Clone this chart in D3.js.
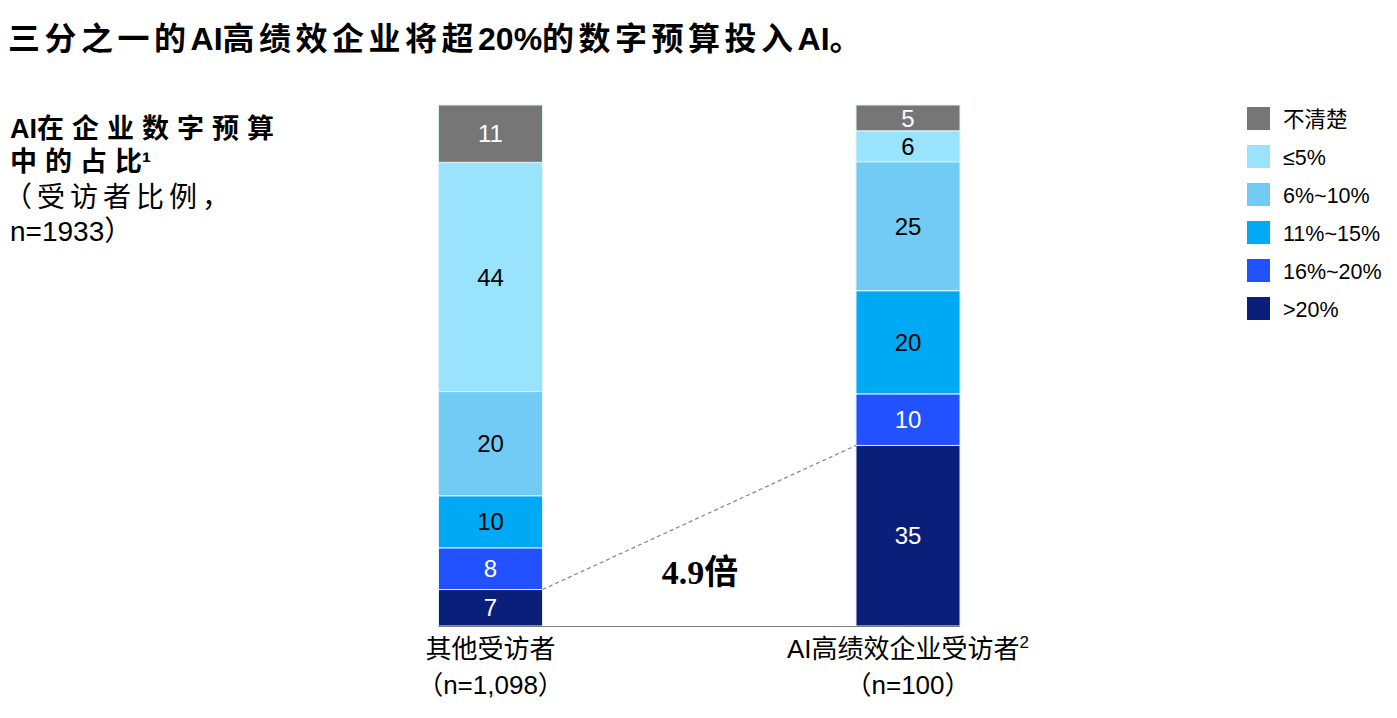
<!DOCTYPE HTML>
<html>
  <head>
    <meta charset="utf-8">
    <title>AI在企业数字预算中的占比</title>
    <style>
      html, body {
        margin: 0;
        padding: 0;
        background: #fff;
      }

      text {
        font-family: "Liberation Sans", "Noto Sans CJK SC", sans-serif;
        fill: #000;
      }

      .title {
        font-size: 32px;
        font-weight: bold;
      }

      .sideBold {
        font-size: 27px;
        font-weight: bold;
      }

      .sideNormal {
        font-size: 28px;
      }

      .valueText {
        font-size: 24px;
      }

      .legendText {
        font-size: 21.5px;
      }

      .catText {
        font-size: 26px;
      }

      .multText {
        font-family: "Liberation Serif", "Noto Sans CJK SC", serif;
        font-size: 34px;
        font-weight: bold;
      }
    </style>
  </head>
  <body>
    <svg width="1397" height="718"></svg>
    <script src="https://d3js.org/d3.v7.min.js"></script>
    <script>
      // categories (bars) and their footnote / sample size
      var categories = [ '其他受访者', 'AI高绩效企业受访者' ];
      var catSup = [ '', '2' ];
      var catN = [ '（n=1,098）', '（n=100）' ];

      // series, bottom to top
      var seriesKeys = [ '>20%', '16%~20%', '11%~15%', '6%~10%', '≤5%', '不清楚' ];
      var seriesColors = [ '#0a1f7a', '#2251ff', '#00a9f4', '#71cbf4', '#99e3fc', '#767676' ];
      var labelColors = [ '#fff', '#fff', '#000', '#000', '#000', '#fff' ];

      // percentage of respondents, one value per category
      var over20 = [ 7, 35 ];
      var from16to20 = [ 8, 10 ];
      var from11to15 = [ 10, 20 ];
      var from6to10 = [ 20, 25 ];
      var upTo5 = [ 44, 6 ];
      var unsure = [ 11, 5 ];

      var seriesValues = [ over20, from16to20, from11to15, from6to10, upTo5, unsure ];

      var svg = d3.select( 'svg' );

      // writes a string into a text element, spacing out only the CJK runs
      function spacedText( sel, str, spacing ) {
        var runs = str.match( /[\u3000-\u9fff\uff00-\uffef]+|[^\u3000-\u9fff\uff00-\uffef]+/g );
        runs.forEach( function( r ) {
          var cjk = /[\u3000-\u9fff\uff00-\uffef]/.test( r );
          sel.append( 'tspan' )
            .style( 'letter-spacing', cjk ? spacing + 'px' : '0px' )
            .text( r );
        } );
      }

      var table = categories.map( function( c, i ) {
        var row = { cat: c };
        seriesKeys.forEach( function( k, j ) { row[k] = seriesValues[j][i]; } );
        return row;
      } );

      // each bar drawn as its own 100% (right bar sums to 101 after rounding)
      var stacked = d3.stack()
        .keys( seriesKeys )
        .offset( d3.stackOffsetExpand )( table );

      var barWidth = 104;
      var x = d3.scalePoint().domain( categories ).range( [ 490.5, 908 ] );
      var y = d3.scaleLinear().domain( [ 0, 1 ] ).range( [ 626, 105 ] );

      // title
      var title = svg.append( 'text' )
        .classed( 'title', true )
        .attr( 'x', 8 )
        .attr( 'y', 50 );
      spacedText( title, '三分之一的AI高绩效企业将超20%的数字预算投入AI。', 4.5 );

      // side label
      var side = [
        { t: 'AI在企业数字预算', tail: '', c: 'sideBold', y: 138, x: 10, ls: 8 },
        { t: '中的占', tail: '比¹', c: 'sideBold', y: 171, x: 10, ls: 8 },
        { t: '（受访者比例，', tail: '', c: 'sideNormal', y: 207, x: 4, ls: 5 },
        { t: 'n=1933）', tail: '', c: 'sideNormal', y: 241, x: 10, ls: 0 }
      ];
      svg.selectAll( '.side' )
        .data( side )
        .enter()
        .append( 'text' )
          .attr( 'class', function( d ) { return 'side ' + d.c; } )
          .attr( 'x', function( d ) { return d.x; } )
          .attr( 'y', function( d ) { return d.y; } )
          .each( function( d ) {
            var t = d3.select( this );
            spacedText( t, d.t, d.ls );
            if( d.tail ) {
              t.append( 'tspan' ).text( d.tail );
            }
          } );

      // bars
      var layers = svg.append( 'g' )
        .selectAll( 'g' )
        .data( stacked )
        .enter()
        .append( 'g' )
          .attr( 'fill', function( d, i ) { return seriesColors[i]; } );

      layers.selectAll( 'rect' )
        .data( function( d ) { return d; } )
        .enter()
        .append( 'rect' )
          .attr( 'x', function( d ) { return x( d.data.cat ) - barWidth / 2; } )
          .attr( 'y', function( d ) { return y( d[1] ); } )
          .attr( 'width', barWidth )
          .attr( 'height', function( d ) { return y( d[0] ) - y( d[1] ); } )
          .attr( 'stroke', '#dff3fb' )
          .attr( 'stroke-width', 1 );

      // value labels
      layers.each( function( layer, li ) {
        d3.select( this ).selectAll( 'text' )
          .data( layer )
          .enter()
          .append( 'text' )
            .classed( 'valueText', true )
            .attr( 'x', function( d ) { return x( d.data.cat ); } )
            .attr( 'y', function( d ) { return ( y( d[0] ) + y( d[1] ) ) / 2; } )
            .attr( 'dy', '0.36em' )
            .attr( 'text-anchor', 'middle' )
            .style( 'fill', labelColors[li] )
            .text( function( d ) { return d.data[ layer.key ]; } );
      } );

      // baseline
      svg.append( 'line' )
        .attr( 'x1', x( categories[0] ) - barWidth / 2 )
        .attr( 'x2', x( categories[1] ) + barWidth / 2 )
        .attr( 'y1', y( 0 ) + 0.5 )
        .attr( 'y2', y( 0 ) + 0.5 )
        .attr( 'stroke', '#7f7f7f' )
        .attr( 'stroke-width', 1.2 );

      // dashed connector between the >20% segments
      var bottom = stacked[0];
      svg.append( 'line' )
        .attr( 'x1', x( categories[0] ) + barWidth / 2 )
        .attr( 'y1', y( bottom[0][1] ) )
        .attr( 'x2', x( categories[1] ) - barWidth / 2 )
        .attr( 'y2', y( bottom[1][1] ) )
        .attr( 'stroke', '#8c8c8c' )
        .attr( 'stroke-width', 1.3 )
        .attr( 'stroke-dasharray', '4,3' );

      svg.append( 'text' )
        .classed( 'multText', true )
        .attr( 'x', 700 )
        .attr( 'y', 584 )
        .attr( 'text-anchor', 'middle' )
        .text( '4.9倍' );

      // category labels
      var cats = svg.append( 'g' )
        .selectAll( 'g' )
        .data( categories )
        .enter()
        .append( 'g' );
      var catName = cats.append( 'text' )
        .classed( 'catText', true )
        .attr( 'x', function( d ) { return x( d ); } )
        .attr( 'y', 658 )
        .attr( 'text-anchor', 'middle' );
      catName.append( 'tspan' ).text( function( d ) { return d; } );
      catName.append( 'tspan' )
        .attr( 'dy', -10 )
        .style( 'font-size', '17px' )
        .text( function( d, i ) { return catSup[i]; } );
      cats.append( 'text' )
        .classed( 'catText', true )
        .attr( 'x', function( d ) { return x( d ); } )
        .attr( 'y', 694 )
        .attr( 'text-anchor', 'middle' )
        .text( function( d, i ) { return catN[i]; } );

      // legend, top to bottom
      var legendKeys = seriesKeys.slice().reverse();
      var legendColors = seriesColors.slice().reverse();
      var legend = svg.append( 'g' )
        .selectAll( 'g' )
        .data( legendKeys )
        .enter()
        .append( 'g' )
          .attr( 'transform', function( d, i ) { return 'translate( 1247, ' + ( 107 + i * 38 ) + ' )'; } );
      legend.append( 'rect' )
        .attr( 'width', 23 )
        .attr( 'height', 23 )
        .attr( 'fill', function( d, i ) { return legendColors[i]; } );
      legend.append( 'text' )
        .classed( 'legendText', true )
        .attr( 'x', 36 )
        .attr( 'y', 12 )
        .attr( 'dy', '0.36em' )
        .text( function( d ) { return d; } );
    </script>
  </body>
</html>
